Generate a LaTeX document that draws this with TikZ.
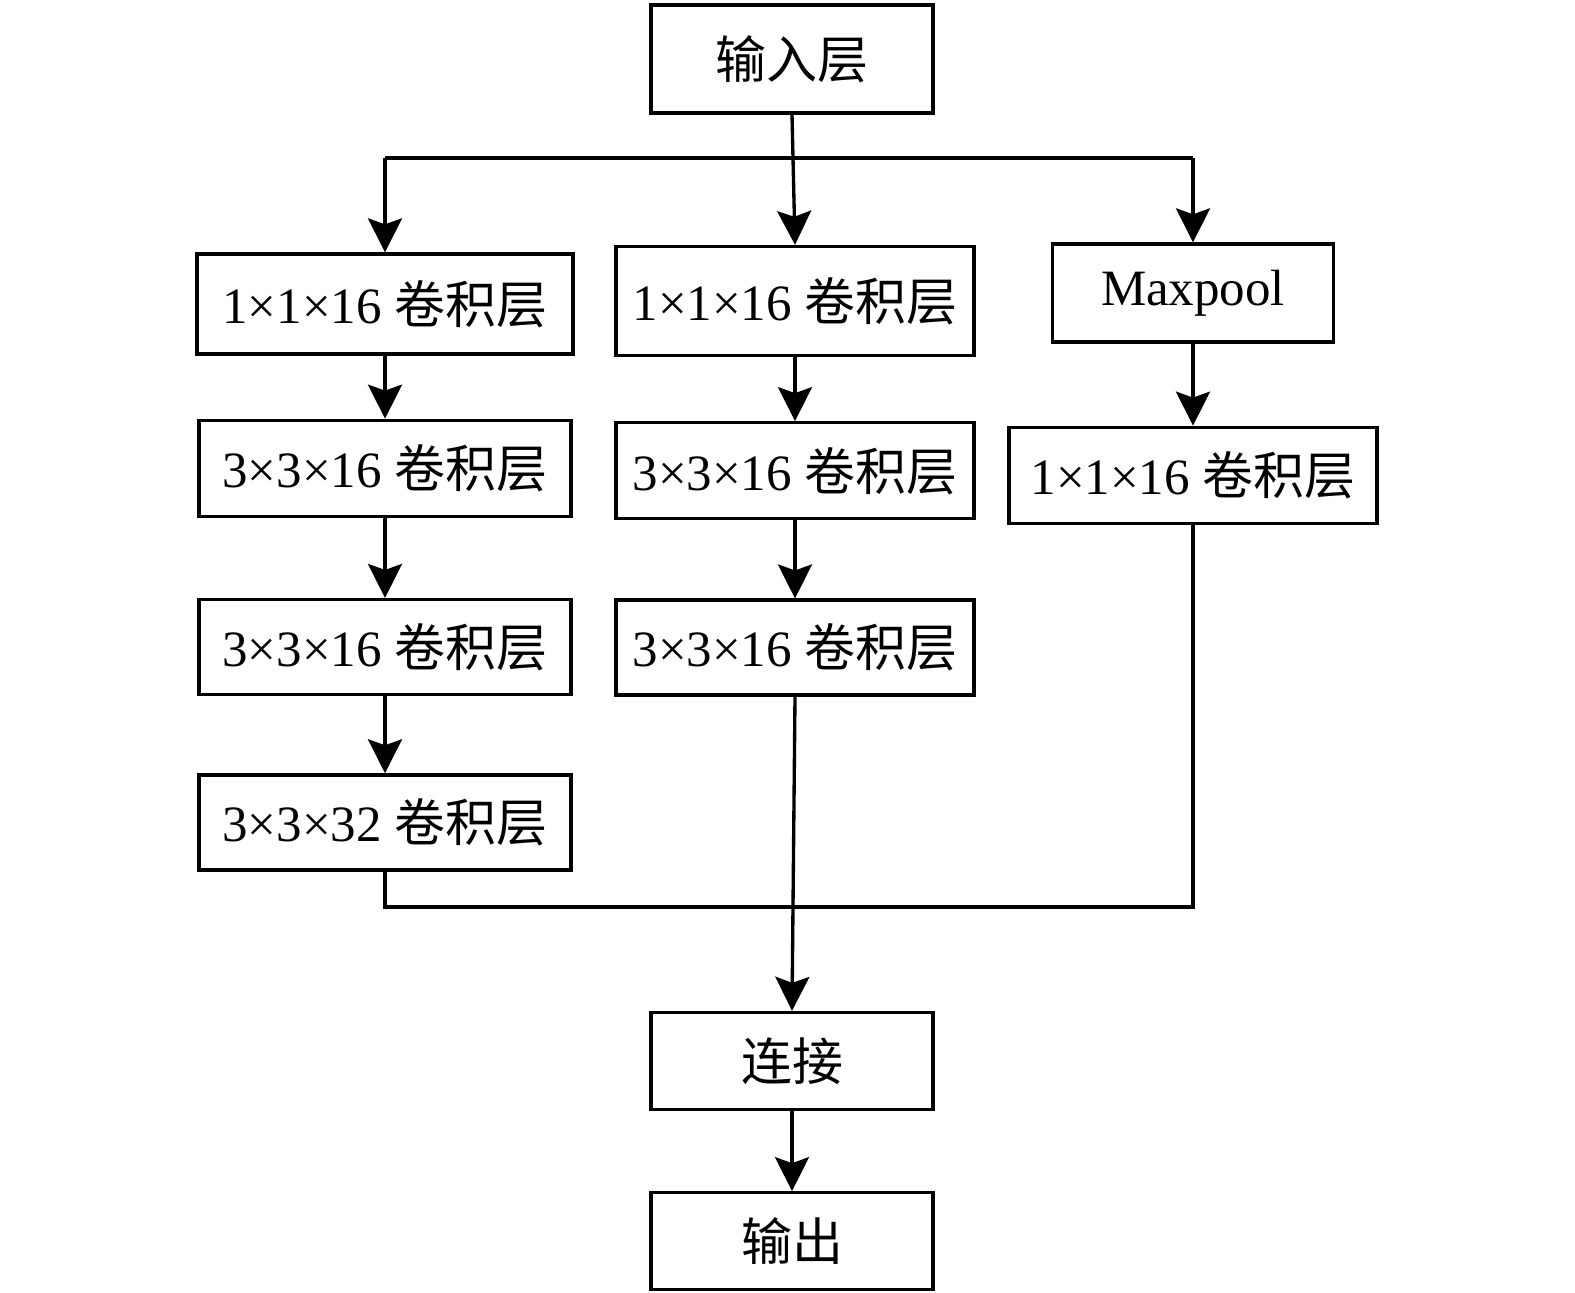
\documentclass[tikz,border=0pt]{standalone}
\usepackage{fontspec}
\setmainfont{Liberation Serif}
\newfontfamily\cjk{Noto Sans CJK SC}
\usepackage{tikz}
\usetikzlibrary{positioning,calc}
\usetikzlibrary{arrows.meta}

\tikzset{
	layer/.style={draw, line width=1.9pt, inner sep=0pt, font=\fontsize{29}{34}\selectfont},
	arr/.style={line width=1.9pt, -{Stealth[length=0.68cm, width=0.68cm, inset=0.12cm]}},
	line/.style={line width=1.9pt}
}

\begin{document}
\begin{tikzpicture}[x=0.02cm, y=-0.02cm]
		\useasboundingbox (0,0) rectangle (1575,1293);
		
		%input
		\node (in) [layer, minimum width=5.64cm, minimum height=2.16cm] at (792,59) {\cjk 输入层};
		
		%left branch
		\node (l1) [layer, minimum width=7.52cm, minimum height=2cm] at (385,304) {1×1×16 {\cjk 卷积层}};
		\node (l2) [layer, minimum width=7.44cm, minimum height=1.92cm, below = 1.26cm of l1] {3×3×16 {\cjk 卷积层}};
		\node (l3) [layer, minimum width=7.44cm, minimum height=1.9cm, below = 1.6cm of l2] {3×3×16 {\cjk 卷积层}};
		\node (l4) [layer, minimum width=7.44cm, minimum height=1.9cm, below = 1.54cm of l3] {3×3×32 {\cjk 卷积层}};
		
		%middle branch
		\node (m1) [layer, minimum width=7.16cm, minimum height=2.18cm] at (795,301) {1×1×16 {\cjk 卷积层}};
		\node (m2) [layer, minimum width=7.16cm, minimum height=1.92cm, below = 1.28cm of m1] {3×3×16 {\cjk 卷积层}};
		\node (m3) [layer, minimum width=7.16cm, minimum height=1.9cm, below = 1.56cm of m2] {3×3×16 {\cjk 卷积层}};
		
		%right branch
		\node (r1) [layer, minimum width=5.62cm, minimum height=1.96cm] at (1193,293) {Maxpool};
		\node (r2) [layer, minimum width=7.36cm, minimum height=1.92cm, below = 1.64cm of r1] {1×1×16 {\cjk 卷积层}};
		
		%concat and output
		\node (cat) [layer, minimum width=5.64cm, minimum height=1.94cm] at (792,1061) {\cjk 连接};
		\node (out) [layer, minimum width=5.64cm, minimum height=1.94cm, below = 1.6cm of cat] {\cjk 输出};
		
		%split
		\coordinate (sp) at (792,158);
		\draw[line] (l1.north |- sp) -- (r1.north |- sp);
		\draw[arr] (in.south) -- (m1.north);
		\draw[arr] (l1.north |- sp) -- (l1);
		\draw[arr] (r1.north |- sp) -- (r1);
		
		\draw[arr] (l1) -- (l2);
		\draw[arr] (l2) -- (l3);
		\draw[arr] (l3) -- (l4);
		\draw[arr] (m1) -- (m2);
		\draw[arr] (m2) -- (m3);
		\draw[arr] (r1) -- (r2);
		
		%merge
		\coordinate (mg) at (792,907);
		\draw[line] (l4) -- (l4.south |- mg) -- (r2.south |- mg) -- (r2);
		\draw[arr] (m3.south) -- (cat.north);
		\draw[arr] (cat) -- (out);
		\end{tikzpicture}
\end{document}
